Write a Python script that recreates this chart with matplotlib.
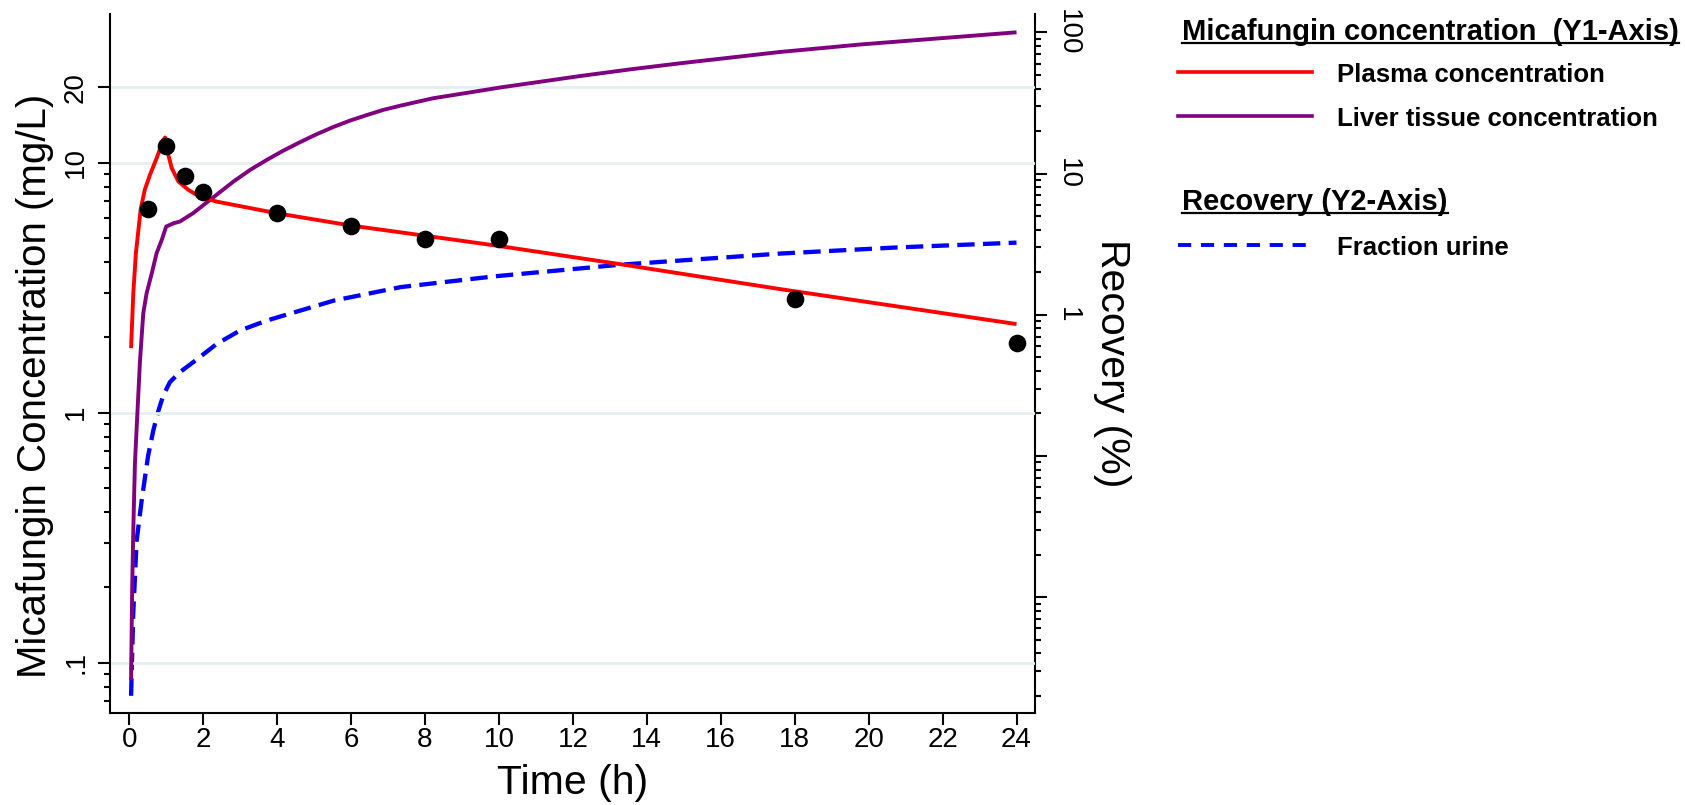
import matplotlib
matplotlib.use("Agg")
import matplotlib.pyplot as plt
from matplotlib.lines import Line2D

plt.rcParams['font.family'] = ['Liberation Sans', 'DejaVu Sans']
plt.rcParams['lines.scale_dashes'] = False

# Observed plasma concentrations (mg/L)
obs_time = [0.5, 1, 1.5, 2, 4, 6, 8, 10, 18, 24]
obs_conc = [6.5, 11.6, 8.8, 7.6, 6.3, 5.6, 4.95, 4.94, 2.84, 1.9]

# Model-predicted plasma concentration (mg/L)
plasma_time = [0.05, 0.11, 0.18, 0.31, 0.42, 0.56, 0.74, 0.92, 0.97, 1.06, 1.15,
               1.33, 1.6, 1.91, 2.37, 4.0, 6.0, 8.0, 10.0, 13.3, 17.6, 24.0]
plasma_conc = [1.81, 3.0, 4.34, 6.51, 7.78, 8.93, 10.4, 12.3, 12.6, 10.7, 9.5,
               8.4, 7.78, 7.3, 6.98, 6.27, 5.6, 5.1, 4.64, 3.92, 3.12, 2.26]

# Model-predicted liver tissue concentration (mg/L)
liver_time = [0.05, 0.08, 0.11, 0.155, 0.22, 0.29, 0.38, 0.47, 0.61, 0.74, 0.88,
              1.0, 1.2, 1.37, 1.73, 2.19, 2.82, 3.27, 3.72, 4.17, 4.62, 5.07,
              5.53, 5.97, 6.43, 6.87, 7.34, 8.23, 9.13, 10.06, 12.2,
              13.55, 14.9, 16.26, 17.6, 19.8, 24.0]
liver_conc = [0.085, 0.2, 0.34, 0.63, 0.99, 1.6, 2.5, 3.0, 3.61, 4.34, 4.91,
              5.55, 5.72, 5.81, 6.28, 7.1, 8.4, 9.35, 10.25, 11.17, 12.07, 12.99,
              13.9, 14.72, 15.5, 16.25, 16.9, 18.1, 19.0, 20.0, 22.2,
              23.6, 24.96, 26.3, 27.7, 29.7, 33.2]

# Cumulative fraction excreted in urine (%)
urine_time = [0.05, 0.108, 0.2, 0.335, 0.51, 0.65, 0.78, 0.92, 1.1, 1.37, 1.73,
              2.37, 3.0, 3.73, 5.54, 7.35, 9.88, 13.28, 17.6, 20.7, 24.0]
urine_pct = [0.002, 0.0076, 0.025, 0.048, 0.1, 0.151, 0.205, 0.268, 0.333,
             0.392, 0.461, 0.622, 0.774, 0.911, 1.26, 1.57, 1.87, 2.26, 2.71,
             2.99, 3.24]

x_ticks = list(range(0, 25, 2))
y1_major = [0.1, 1, 10, 20]
y1_labels = ['.1', '1', '10', '20']
y1_minor = [0.07, 0.08, 0.09, 0.2, 0.3, 0.4, 0.5, 0.6, 0.7, 0.8, 0.9,
            2, 3, 4, 5, 6, 7, 8, 9]
y2_major = [0.01, 0.1, 1, 10, 100]
y2_labels = ['', '', '1', '10', '100']
y2_minor = [m * d for d in (0.001, 0.01, 0.1, 1, 10) for m in range(2, 10)]

RED = '#ff0000'
PURPLE = '#800080'
BLUE = '#0000ff'
GRID = '#e6eff0'

W, H = 1685, 805
fig = plt.figure(figsize=(W / 100, H / 100), dpi=100)
left, right, top, bottom = 110, 1035, 14, 713.3
ax = fig.add_axes([left / W, 1 - bottom / H, (right - left) / W, (bottom - top) / H])
ax2 = ax.twinx()

ax.set_xlim(-0.52, 24.5)
ax.set_yscale('log')
ax.set_ylim(0.0627, 39.3)
ax2.set_yscale('log')
ax2.set_ylim(0.001504, 134.8)

# gridlines at the labelled concentration levels
for g in y1_major:
    ax.axhline(g, color=GRID, lw=2.0, zorder=0.5)

ax.plot(liver_time, liver_conc, color=PURPLE, lw=2.8, zorder=2,
        solid_capstyle='butt', solid_joinstyle='round')
ax.plot(plasma_time, plasma_conc, color=RED, lw=2.8, zorder=3,
        solid_capstyle='butt', solid_joinstyle='round')
ax2.plot(urine_time, urine_pct, color=BLUE, lw=3.1, dashes=[12.5, 6], zorder=2)
ax.plot(obs_time, obs_conc, 'o', color='black', ms=12.7, mew=0, zorder=5)
ax.set_zorder(ax2.get_zorder() + 1)
ax.patch.set_visible(False)

# axes frame
for a in (ax, ax2):
    a.spines['top'].set_visible(False)
    for s in ('left', 'right', 'bottom'):
        a.spines[s].set_linewidth(1.5)
ax.spines['right'].set_visible(False)
ax2.spines['left'].set_visible(False)
ax2.spines['bottom'].set_visible(False)

ax.set_xticks(x_ticks, labels=[str(t) for t in x_ticks], fontsize=20)
ax.tick_params(axis='x', length=8.6, width=1.5, pad=1.5)

ax.set_yticks(y1_major, labels=y1_labels, fontsize=20, rotation=90, va='center')
ax.set_yticks(y1_minor, minor=True)
ax.yaxis.set_minor_formatter(plt.NullFormatter())
ax.tick_params(axis='y', which='major', length=8.6, width=1.5, pad=6.5)
ax.tick_params(axis='y', which='minor', length=4.3, width=1.5)

ax2.set_yticks(y2_major, labels=y2_labels, fontsize=20, rotation=-90, va='center')
ax2.set_yticks(y2_minor, minor=True)
ax2.yaxis.set_minor_formatter(plt.NullFormatter())
ax2.tick_params(axis='y', which='major', length=8.6, width=1.5, pad=6.0)
ax2.tick_params(axis='y', which='minor', length=4.3, width=1.5)

ax.set_xlabel('Time (h)', fontsize=29.5, va='center')
ax.xaxis.set_label_coords(0.5005, -0.0997)
ax.set_ylabel('Micafungin Concentration (mg/L)', fontsize=29, va='center')
ax.yaxis.set_label_coords((35 - left) / (right - left), 0.468)
ax2.set_ylabel('Recovery (%)', fontsize=29.5, rotation=270, va='center')
ax2.yaxis.set_label_coords((1112 - left) / (right - left), 0.5)


def fx(x):
    return x / W


def fy(y):
    return 1 - y / H


# legend block at the right of the plot
headers = [('Micafungin concentration  (Y1-Axis)', 40)]
headers.append(('Recovery (Y2-Axis)', 210))
entries = [
    ('Plasma concentration', 82, dict(color=RED, lw=2.6)),
    ('Liver tissue concentration', 126, dict(color=PURPLE, lw=2.6)),
    ('Fraction urine', 255, dict(color=BLUE, lw=2.8, dashes=[9.5, 7])),
]

header_texts = []
for label, base in headers:
    t = fig.text(fx(1182), fy(base), label, fontsize=21, fontweight='bold',
                 ha='left', va='baseline')
    header_texts.append((t, base))

for label, base, style in entries:
    fig.text(fx(1337), fy(base), label, fontsize=18.5, fontweight='bold',
             ha='left', va='baseline')
    ymid = base - 10
    fig.add_artist(Line2D([fx(1178), fx(1312)], [fy(ymid), fy(ymid)],
                          transform=fig.transFigure, **style))

fig.canvas.draw()
renderer = fig.canvas.get_renderer()
for t, base in header_texts:
    bb = t.get_window_extent(renderer)
    uy = fy(base + 3)
    fig.add_artist(Line2D([bb.x0 / W, bb.x1 / W], [uy, uy],
                          transform=fig.transFigure, color='black', lw=1.6))

fig.savefig('out.png', dpi=100)
